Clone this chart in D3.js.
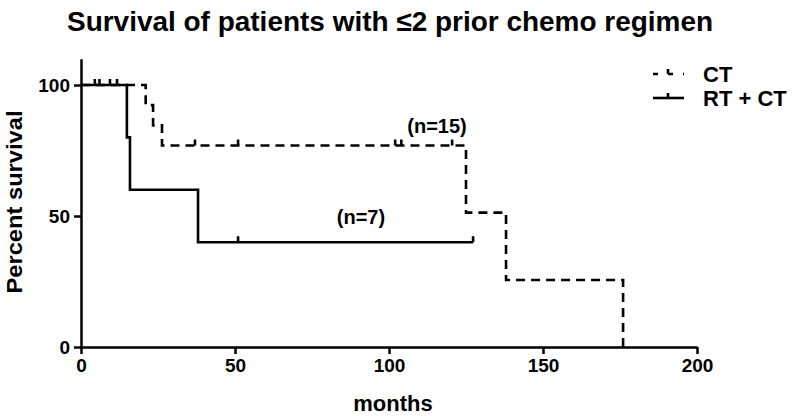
<!DOCTYPE html>
<html>
<head>
<meta charset="utf-8">
<script src="https://cdn.jsdelivr.net/npm/d3@7"></script>
<style>
  html, body { margin: 0; padding: 0; background: #fff; }
  svg { display: block; }
  text { font-family: "Liberation Sans", Arial, sans-serif; font-weight: bold; fill: #000; }
</style>
</head>
<body>
<svg id="chart" width="800" height="416"></svg>
<script>
// ---- data ----
const titleText = "Survival of patients with \u22642 prior chemo regimen";
const xTicks = [0, 50, 100, 150, 200];
const yTicks = [0, 50, 100];
const seriesNames = ["CT", "RT + CT"];

// CT (dashed), n=15
const ctTimes = [0, 21, 23.4, 26.3, 125, 138, 176];
const ctSurv  = [100, 92.3, 84.6, 76.9, 51.3, 25.6, 0];
const ctCensorTimes = [4.5, 9.4, 37, 51, 102, 104, 120.5];
const ctCensorSurv  = [100, 100, 76.9, 76.9, 76.9, 76.9, 76.9];

// RT + CT (solid), n=7
const rtTimes = [0, 14.9, 15.9, 38, 127.3];
const rtSurv  = [100, 80, 60, 40, 40];
const rtCensorTimes = [6, 11.7, 51, 127.3];
const rtCensorSurv  = [100, 100, 40, 40];

const nLabels = ["(n=15)", "(n=7)"];
const nLabelPos = [[115.6, 81.5], [90.9, 47]]; // months, percent (baseline)

// ---- drawing ----
const svg = d3.select("#chart");
const x = d3.scaleLinear().domain([0, 200]).range([81, 697]);
const y = d3.scaleLinear().domain([0, 110]).range([347, 58.8]);

const axisW = 2.5;

// title
svg.append("text")
  .attr("x", 390).attr("y", 31)
  .attr("text-anchor", "middle")
  .attr("font-size", 28)
  .attr("textLength", 646).attr("lengthAdjust", "spacingAndGlyphs")
  .text(titleText);

// axes
const xAxis = d3.axisBottom(x).tickValues(xTicks).tickSizeInner(7).tickSizeOuter(0).tickPadding(5);
const yAxis = d3.axisLeft(y).tickValues(yTicks).tickSizeInner(7).tickSizeOuter(0).tickPadding(4);

const gx = svg.append("g").attr("transform", `translate(0,${y(0)})`).call(xAxis);
const gy = svg.append("g").attr("transform", `translate(${x(0)},0)`).call(yAxis);
[gx, gy].forEach(g => {
  g.selectAll("path.domain").attr("stroke", "#000").attr("stroke-width", axisW);
  g.selectAll(".tick line").attr("stroke", "#000").attr("stroke-width", axisW);
  g.selectAll(".tick text").attr("font-size", 19)
    .attr("font-family", "Liberation Sans, Arial, sans-serif").attr("font-weight", "bold").attr("fill", "#000");
});

// axis labels
svg.append("text")
  .attr("x", 393).attr("y", 411)
  .attr("text-anchor", "middle").attr("font-size", 22)
  .text("months");

svg.append("text")
  .attr("transform", `translate(22,202) rotate(-90)`)
  .attr("text-anchor", "middle").attr("font-size", 22)
  .attr("textLength", 183).attr("lengthAdjust", "spacingAndGlyphs")
  .text("Percent survival");

// curves
const line = d3.line().x(d => x(d[0])).y(d => y(d[1])).curve(d3.curveStepAfter);
const lw = 2.6;

const ctPts = ctTimes.map((t, i) => [t, ctSurv[i]]);
const rtPts = rtTimes.map((t, i) => [t, rtSurv[i]]);

svg.append("path").attr("d", line(rtPts))
  .attr("fill", "none").attr("stroke", "#000").attr("stroke-width", lw);
svg.append("path").attr("d", line(ctPts))
  .attr("fill", "none").attr("stroke", "#000").attr("stroke-width", lw)
  .attr("stroke-dasharray", "9,6");

// censor ticks
const tickH = 6;
function censor(times, survs) {
  svg.append("g").selectAll("line").data(times).join("line")
    .attr("x1", (d) => x(d)).attr("x2", (d) => x(d))
    .attr("y1", (d, i) => y(survs[i]))
    .attr("y2", (d, i) => y(survs[i]) - tickH)
    .attr("stroke", "#000").attr("stroke-width", lw);
}
censor(ctCensorTimes, ctCensorSurv);
censor(rtCensorTimes, rtCensorSurv);

// n labels
nLabels.forEach((t, i) => {
  svg.append("text")
    .attr("x", x(nLabelPos[i][0])).attr("y", y(nLabelPos[i][1]))
    .attr("text-anchor", "middle").attr("font-size", 20)
    .text(t);
});

// legend
const lg = svg.append("g");
const lx0 = 653, lx1 = 684, ltx = 668;
const ly = [74, 98];
lg.append("line").attr("x1", lx0).attr("x2", lx1).attr("y1", ly[0]).attr("y2", ly[0])
  .attr("stroke", "#000").attr("stroke-width", lw).attr("stroke-dasharray", "5,10");
lg.append("line").attr("x1", ltx).attr("x2", ltx).attr("y1", ly[0]).attr("y2", ly[0] - 5)
  .attr("stroke", "#000").attr("stroke-width", lw);
lg.append("line").attr("x1", lx0).attr("x2", lx1).attr("y1", ly[1]).attr("y2", ly[1])
  .attr("stroke", "#000").attr("stroke-width", lw);
lg.append("line").attr("x1", ltx).attr("x2", ltx).attr("y1", ly[1]).attr("y2", ly[1] - 5)
  .attr("stroke", "#000").attr("stroke-width", lw);
seriesNames.forEach((n, i) => {
  lg.append("text").attr("x", 703).attr("y", ly[i] + 8)
    .attr("font-size", 22).text(n);
});
</script>
</body>
</html>
